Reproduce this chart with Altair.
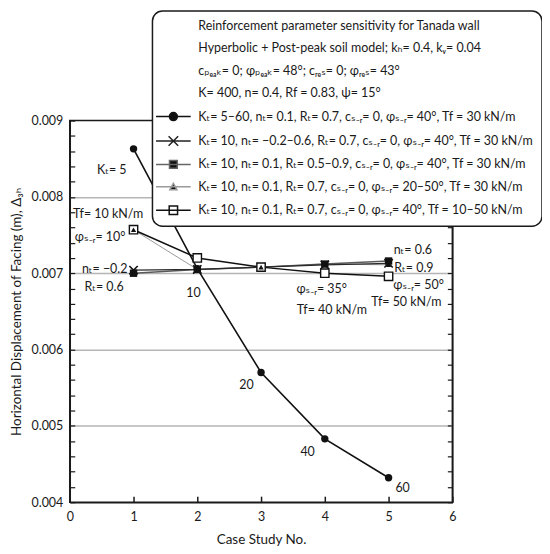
import altair as alt
import pandas as pd

# ---------------- data ----------------
case_no = [1, 2, 3, 4, 5]
kt_series = [0.00863, 0.00706, 0.00570, 0.00483, 0.00432]
nt_series = [0.00704, 0.00705, 0.00708, 0.00711, 0.00713]
rt_series = [0.00700, 0.00705, 0.00708, 0.00712, 0.00716]
phi_series = [0.00757, 0.00705, 0.00708, 0.00712, 0.00711]
tf_series = [0.00757, 0.00720, 0.00708, 0.00700, 0.00696]

x_ticks = [0, 1, 2, 3, 4, 5, 6]
y_ticks = [0.0040, 0.0042, 0.0044, 0.0046, 0.0048, 0.0050, 0.0052, 0.0054, 0.0056,
           0.0058, 0.0060, 0.0062, 0.0064, 0.0066, 0.0068, 0.0070, 0.0072, 0.0074,
           0.0076, 0.0078, 0.0080, 0.0082, 0.0084, 0.0086, 0.0088, 0.0090]

header_lines = [
    "Reinforcement parameter sensitivity for Tanada wall",
    "Hyperbolic + Post-peak soil model; kₕ= 0.4, kᵥ= 0.04",
    "cₚₑₐₖ= 0; φₚₑₐₖ= 48°; cᵣₑₛ= 0; φᵣₑₛ= 43°",
    "K= 400, n= 0.4, Rf = 0.83, ψ= 15°",
]
series_labels = [
    "Kₜ= 5–60, nₜ= 0.1, Rₜ= 0.7, cₛ₋ᵣ= 0, φₛ₋ᵣ= 40°, Tf = 30 kN/m",
    "Kₜ= 10, nₜ= −0.2–0.6, Rₜ= 0.7, cₛ₋ᵣ= 0, φₛ₋ᵣ= 40°, Tf = 30 kN/m",
    "Kₜ= 10, nₜ= 0.1, Rₜ= 0.5–0.9, cₛ₋ᵣ= 0, φₛ₋ᵣ= 40°, Tf = 30 kN/m",
    "Kₜ= 10, nₜ= 0.1, Rₜ= 0.7, cₛ₋ᵣ= 0, φₛ₋ᵣ= 20–50°, Tf = 30 kN/m",
    "Kₜ= 10, nₜ= 0.1, Rₜ= 0.7, cₛ₋ᵣ= 0, φₛ₋ᵣ= 40°, Tf = 10–50 kN/m",
]

ann_text = ["Kₜ= 5", "Tf= 10 kN/m", "φₛ₋ᵣ= 10°", "nₜ= −0.2", "Rₜ= 0.6",
            "10", "20", "40", "60",
            "nₜ= 0.6", "Rₜ= 0.9",
            "φₛ₋ᵣ= 35°", "Tf= 40 kN/m", "φₛ₋ᵣ= 50°", "Tf= 50 kN/m"]
ann_x = [0.89, 0.05, 0.08, 0.19, 0.23,
         1.94, 2.77, 3.73, 5.22,
         5.08, 5.09,
         3.95, 4.11, 5.47, 5.28]
ann_y = [0.00835, 0.00778, 0.00747, 0.00706, 0.00682,
         0.00674, 0.00554, 0.00466, 0.00419,
         0.00730, 0.00707,
         0.00679, 0.00652, 0.00684, 0.00662]
ann_align = ["right", "left", "left", "left", "left",
             "center", "center", "center", "center",
             "left", "left",
             "center", "center", "center", "center"]

# ---------------- styles ----------------
INK = "#1a1a1a"
FONT = "Lato, 'DejaVu Sans', sans-serif"

series_values = [kt_series, nt_series, rt_series, phi_series, tf_series]
line_colors = ["#111111", "#2a2a2a", "#5a5a5a", "#9a9a9a", "#111111"]
line_widths = [1.6, 1.3, 1.5, 1.0, 1.5]
x_path = "M-1,-1L1,1M-1,1L1,-1"
marker_styles = [
    dict(shape="circle", filled=True, color="#111111", size=55),
    dict(shape=x_path, filled=False, color="#111111", size=70, strokeWidth=1.6),
    dict(shape="square", filled=True, color="#111111", size=55),
    dict(shape="triangle-up", filled=True, color="#111111", size=28),
    dict(shape="square", filled=False, fill="white", fillOpacity=1, color="#111111", size=70, strokeWidth=1.4),
]
line_order = [3, 2, 1, 4, 0]
point_order = [0, 1, 2, 4, 3]

leg_shapes = ["M-0.5,-0.55H0.5V0.55H-0.5Z"] * 4 + [
    "M-1.9,0H3.9M0.33,0A0.67,0.67 0 1 0 1.67,0A0.67,0.67 0 1 0 0.33,0Z",
    "M-1.9,0H3.9M0.2,-0.8L1.8,0.8M0.2,0.8L1.8,-0.8",
    "M-1.9,0H3.9M0.35,-0.65H1.65V0.65H0.35Z",
    "M-1.9,0H3.9M1,-0.6L1.6,0.5H0.4Z",
    "M-1.9,0H3.9M0.3,-0.7H1.7V0.7H0.3Z",
]
leg_fill = ["transparent"] * 4 + ["#111111", "transparent", "#111111", "#111111", "white"]
leg_stroke = ["transparent"] * 4 + ["#111111", "#222222", "#666666", "#9a9a9a", "#111111"]

# ---------------- scales & axes ----------------
xscale = alt.Scale(domain=[0, 6], nice=False, zero=False)
yscale = alt.Scale(domain=[0.004, 0.009], nice=False, zero=False)
major = "abs(datum.value*1000 - round(datum.value*1000)) < 0.01"

x_axis = alt.Axis(values=x_ticks, format="d", title="Case Study No.", grid=False,
                  tickSize={"expr": "-6"}, tickWidth=1.5, tickColor=INK,
                  domainColor=INK, domainWidth=1.5, labelPadding=14, labelFlush=False,
                  labelFontSize=12.5, labelColor=INK, labelFont=FONT,
                  titleFont=FONT, titleFontSize=13.5, titleFontWeight="normal",
                  titleColor=INK, titlePadding=10)
y_left = alt.Axis(values=y_ticks, labelExpr=f"{major} ? format(datum.value, '.3f') : ''",
                  labelOverlap=False, labelFlush=False,
                  tickSize={"expr": "-5"}, tickWidth=1.2, tickColor=INK,
                  domainColor=INK, domainWidth=1.5,
                  grid=True, gridColor="#b5b5b5", gridWidth=1.5,
                  gridOpacity={"condition": {"test": f"{major} && datum.value > 0.0041 && datum.value < 0.0089", "value": 1}, "value": 0},
                  title="Horizontal Displacement of Facing (m), Δ₃ₕ",
                  labelFontSize=12.5, labelColor=INK, labelFont=FONT, labelPadding=12,
                  titleFont=FONT, titleFontSize=13.5, titleFontWeight="normal",
                  titleColor=INK, titlePadding=8)
y_right = alt.Axis(orient="right", values=y_ticks, labels=False, title=None,
                   tickSize={"expr": "-5"}, tickWidth=1.2, tickColor=INK,
                   domainColor=INK, domainWidth=1.5, grid=False)

layers = []
first = True
for i in line_order:
    df = pd.DataFrame({"x": case_no, "y": series_values[i]})
    layers.append(
        alt.Chart(df).mark_line(color=line_colors[i], strokeWidth=line_widths[i]).encode(
            x=alt.X("x:Q", scale=xscale, axis=x_axis),
            y=alt.Y("y:Q", scale=yscale, axis=y_left if first else None),
        )
    )
    first = False
second = True
for i in point_order:
    df = pd.DataFrame({"x": case_no, "y": series_values[i]})
    layers.append(
        alt.Chart(df).mark_point(opacity=1, **marker_styles[i]).encode(
            x=alt.X("x:Q", scale=xscale, axis=x_axis),
            y=alt.Y("y:Q", scale=yscale, axis=y_right if second else None),
        )
    )
    second = False

ann_df = pd.DataFrame({"x": ann_x, "y": ann_y, "text": ann_text, "align": ann_align})
for al in ["left", "center", "right"]:
    layers.append(
        alt.Chart(ann_df).transform_filter(alt.datum.align == al).mark_text(
            align=al, baseline="middle", font=FONT, fontSize=12.5, color=INK
        ).encode(
            x=alt.X("x:Q", scale=xscale, axis=x_axis),
            y=alt.Y("y:Q", scale=yscale, axis=None),
            text="text:N",
        )
    )

leg_domain = header_lines + series_labels
legend = alt.Legend(orient="none", legendX=83, legendY=-110, title=None,
                    padding=8, cornerRadius=10, strokeColor=INK, fillColor="white",
                    symbolSize=144, symbolOpacity=1, symbolStrokeWidth=1.5,
                    labelOffset=24, labelLimit=600,
                    labelFont=FONT, labelFontSize=12.5, labelColor=INK, rowPadding=8.5)
leg_df = pd.DataFrame({"label": leg_domain})
layers.append(
    alt.Chart(leg_df).mark_point(opacity=0, filled=False).encode(
        color=alt.Color("label:N", scale=alt.Scale(domain=leg_domain, range=leg_stroke), legend=legend),
        shape=alt.Shape("label:N", scale=alt.Scale(domain=leg_domain, range=leg_shapes), legend=legend),
        fill=alt.Fill("label:N", scale=alt.Scale(domain=leg_domain, range=leg_fill), legend=legend),
    )
)

chart = alt.layer(*layers).resolve_axis(y="independent").properties(
    width=384, height=383, autosize="none",
    padding={"left": 62, "top": 112, "right": 90, "bottom": 50},
).configure_view(stroke=INK, strokeWidth=1.5).configure_legend(strokeWidth=1.5)

chart.save("out.html", embed_options={"renderer": "svg", "actions": False})
